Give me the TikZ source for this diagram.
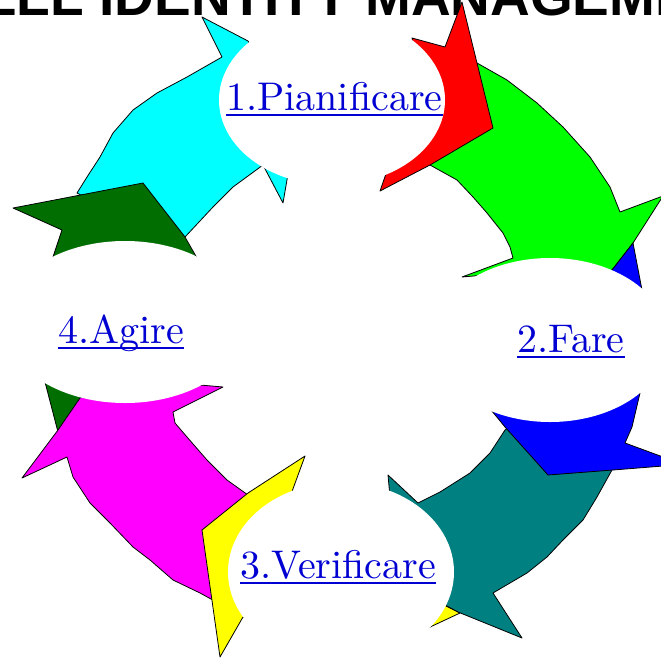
\documentclass[tikz,border=0pt]{standalone}
\usepackage{fontspec}
\usetikzlibrary{shapes,positioning}
\newfontfamily\titlefont{Liberation Sans}
\newfontfamily\labelfont{lmroman10-regular}[Extension=.otf]
\definecolor{darkgreen}{RGB}{0,110,0}
\definecolor{tealc}{RGB}{0,128,128}
\definecolor{aqua}{RGB}{0,255,255}
\definecolor{fuchsia}{RGB}{255,0,255}
\definecolor{lemon}{RGB}{255,255,0}
\definecolor{lime}{RGB}{0,255,0}
\definecolor{pureblue}{RGB}{0,0,255}
\definecolor{purered}{RGB}{255,0,0}
\definecolor{linkblue}{RGB}{0,0,210}
\tikzstyle{piece} = [draw=black, line width=0.8pt, line join=round]
\tikzstyle{hole} = [ellipse, fill=white, inner sep=0pt]
\tikzstyle{phase} = [anchor=base west, inner sep=0pt, text=linkblue, font=\labelfont\fontsize{40}{44}\selectfont]
\tikzstyle{uline} = [draw=linkblue, line width=1.6pt]

\begin{document}
\begin{tikzpicture}[x=1pt,y=-1pt]
    \clip (0,0) rectangle (661,659);
    \node [anchor=base west, inner sep=0pt, font=\titlefont\bfseries\fontsize{55}{60}\selectfont] (title) at (-20,15) {ELL IDENTITY MANAGEMENT};

    % arrows
    \filldraw[piece, fill=aqua] (202,17) -- (248,41) -- (268,70) -- (285,150) -- (288,174) -- (283,203) -- (263,165) -- (233,187) -- (213,207) -- (185,237) -- (160,215) -- (100,205) -- (77,193) -- (87,177) -- (100,157) -- (113,133) -- (133,110) -- (157,93) -- (187,77) -- (222,57) -- cycle;
    \filldraw[piece, fill=darkgreen] (13,208) -- (143,183) -- (185,237) -- (197,258) -- (205,280) -- (125,300) -- (50,275) -- (53,257) -- (62,230) -- cycle;
    \filldraw[piece, fill=darkgreen] (45,382) -- (58,432) -- (90,400) -- (80,370) -- cycle;
    \filldraw[piece, fill=fuchsia] (80,398) -- (140,380) -- (200,385) -- (223,387) -- (173,412) -- (175,423) -- (187,437) -- (207,460) -- (227,480) -- (248,495) -- (262,520) -- (225,605) -- (211,599) -- (200,593) -- (173,580) -- (150,560) -- (133,547) -- (110,523) -- (90,503) -- (73,477) -- (67,457) -- (22,478) -- (58,430) -- cycle;
    \filldraw[piece, fill=lemon] (305,456) -- (290,497) -- (330,520) -- (430,590) -- (446,606) -- (460,613) -- (428,628) -- (300,640) -- (243,617) -- (220,657) -- (202,530) -- (248,493) -- cycle;
    \filldraw[piece, fill=tealc] (388,475) -- (418,503) -- (440,492) -- (470,473) -- (490,453) -- (505,430) -- (530,410) -- (600,440) -- (612,470) -- (597,497) -- (583,520) -- (563,540) -- (547,557) -- (527,573) -- (493,593) -- (522,638) -- (458,612) -- (445,605) -- (420,580) -- (400,520) -- (390,497) -- cycle;
    \filldraw[piece, fill=pureblue] (487,405) -- (560,400) -- (640,393) -- (632,427) -- (625,443) -- (663,457) -- (663,466) -- (613,470) -- (548,475) -- (505,427) -- cycle;
    \filldraw[piece, fill=lime] (477,63) -- (507,80) -- (537,103) -- (563,127) -- (590,157) -- (610,187) -- (620,212) -- (663,196) -- (633,243) -- (612,270) -- (560,300) -- (485,275) -- (462,277) -- (513,258) -- (510,247) -- (503,233) -- (487,213) -- (473,197) -- (457,180) -- (430,165) -- (455,120) -- cycle;
    \filldraw[piece, fill=pureblue] (612,270) -- (633,243) -- (642,290) -- (615,300) -- cycle;
    \filldraw[piece, fill=purered] (462,2) -- (477,63) -- (493,128) -- (430,165) -- (380,191) -- (388,168) -- (425,110) -- (412,38) -- (445,47) -- cycle;

    % white openings
    \node [hole, minimum width=226pt, minimum height=170pt] (planhole) at (332,100) {};
    \node [hole, minimum width=236pt, minimum height=164pt] (dohole) at (550,340) {};
    \node [hole, minimum width=226pt, minimum height=180pt] (checkhole) at (341,572) {};
    \node [hole, minimum width=244pt, minimum height=162pt] (acthole) at (125,322) {};

    \node [phase] (plan) at (226,110) {1.Pianificare};
    \node [phase] (do) at (517,352) {2.Fare};
    \node [phase] (check) at (240,578) {3.Verificare};
    \node [phase] (act) at (58,343) {4.Agire};
    \foreach \n in {plan,do,check,act}
        \draw[uline] ([yshift=-5pt]\n.base west) -- ([yshift=-5pt]\n.base east);
\end{tikzpicture}
\end{document}
